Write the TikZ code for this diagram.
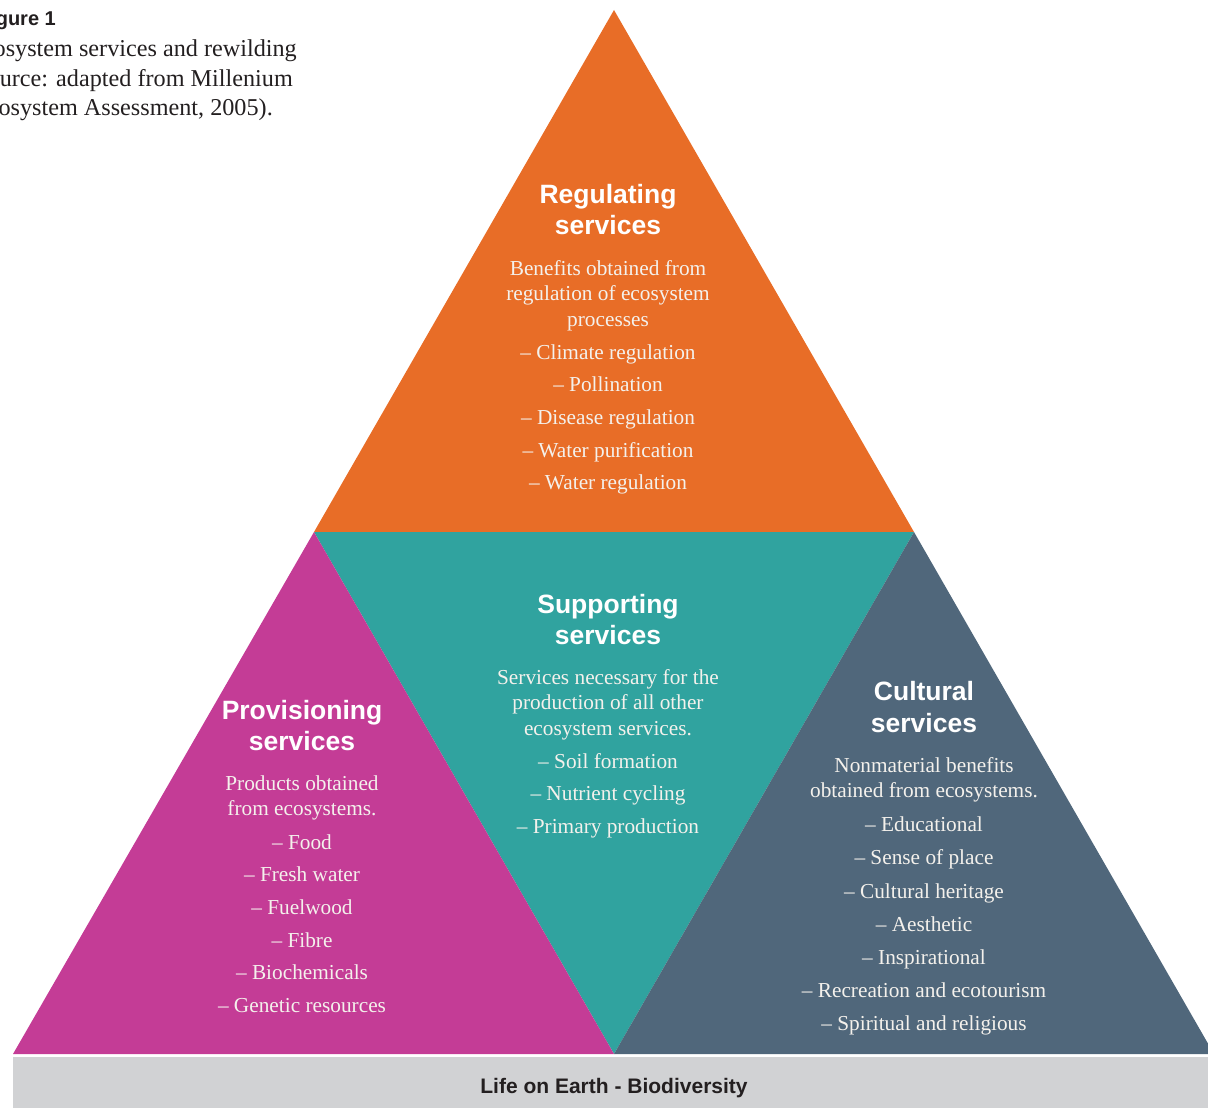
\documentclass[tikz,border=0pt]{standalone}
\usepackage{fontspec}
\setmainfont{Liberation Serif}
\newfontfamily\hdfont{Liberation Sans}
\definecolor{orangeC}{HTML}{E86D27}
\definecolor{tealC}{HTML}{30A39F}
\definecolor{magentaC}{HTML}{C43C96}
\definecolor{slateC}{HTML}{50677B}
\definecolor{grayC}{HTML}{D1D2D4}
\definecolor{txtC}{HTML}{F4F1EC}
\definecolor{darkC}{HTML}{231F20}
\tikzset{
  hd/.style={font=\hdfont\bfseries\fontsize{26.5}{30}\selectfont, text=white, anchor=base, inner sep=0pt},
  bd/.style={font=\fontsize{21.3}{26}\selectfont, text=txtC, anchor=base, inner sep=0pt},
  captxt/.style={font=\fontsize{24.2}{28}\selectfont, text=darkC, anchor=base east, inner sep=0pt},
}
\begin{document}
\begin{tikzpicture}[x=1pt,y=-1pt]
\useasboundingbox (0,0) rectangle (1208,1108);
\clip (0,0) rectangle (1208,1108);
% triangles
\fill[orangeC] (614,10) -- (314,532) -- (914,532) -- cycle;
\fill[tealC] (314,532) -- (914,532) -- (614,1054) -- cycle;
\fill[magentaC] (314,532) -- (13,1054) -- (614,1054) -- cycle;
\fill[slateC] (914,532) -- (614,1054) -- (1214,1054) -- cycle;
% base bar
\fill[grayC] (13,1056.5) rectangle (1212,1112);
\node[font=\hdfont\bfseries\fontsize{21}{24}\selectfont, text=darkC, anchor=base, inner sep=0pt] (base) at (614,1093) {Life on Earth - Biodiversity};
% caption
\node[font=\hdfont\bfseries\fontsize{20}{24}\selectfont, text=darkC, anchor=base east, inner sep=0pt] (fig) at (56,26) {Figure 1};
\node[captxt] (c1) at (297,57) {Ecosystem services and rewilding};
\node[captxt] (c2) at (293,86) {(Source: adapted from Millenium};
\node[captxt] (c3) at (273,115) {Ecosystem Assessment, 2005).};
% Regulating
\node[hd] (rh1) at (608,203) {Regulating};
\node[hd] (rh2) at (608,234.5) {services};
\foreach \t/\y [count=\i] in {{Benefits obtained from}/275,{regulation of ecosystem}/300.5,{processes}/326,
  {– Climate regulation}/359,{– Pollination}/391.5,{– Disease regulation}/424,{– Water purification}/457,{– Water regulation}/489}
  {\node[bd] (r\i) at (608,\y) {\t};}
% Supporting
\node[hd] (sh1) at (608,613) {Supporting};
\node[hd] (sh2) at (608,644.5) {services};
\foreach \t/\y [count=\i] in {{Services necessary for the}/684,{production of all other}/709.5,{ecosystem services.}/735,
  {– Soil formation}/768,{– Nutrient cycling}/800.5,{– Primary production}/833}
  {\node[bd] (s\i) at (608,\y) {\t};}
% Provisioning
\node[hd] (ph1) at (302,719) {Provisioning};
\node[hd] (ph2) at (302,750.5) {services};
\foreach \t/\y [count=\i] in {{Products obtained}/790,{from ecosystems.}/815.5,
  {– Food}/849,{– Fresh water}/881.5,{– Fuelwood}/914,{– Fibre}/947,{– Biochemicals}/979,{– Genetic resources}/1012}
  {\node[bd] (p\i) at (302,\y) {\t};}
% Cultural
\node[hd] (ch1) at (924,700.5) {Cultural};
\node[hd] (ch2) at (924,732) {services};
\foreach \t/\y [count=\i] in {{Nonmaterial benefits}/772,{obtained from ecosystems.}/797.5,
  {– Educational}/831,{– Sense of place}/864,{– Cultural heritage}/898,{– Aesthetic}/931,{– Inspirational}/964,
  {– Recreation and ecotourism}/997,{– Spiritual and religious}/1030}
  {\node[bd] (k\i) at (924,\y) {\t};}
\end{tikzpicture}
\end{document}
